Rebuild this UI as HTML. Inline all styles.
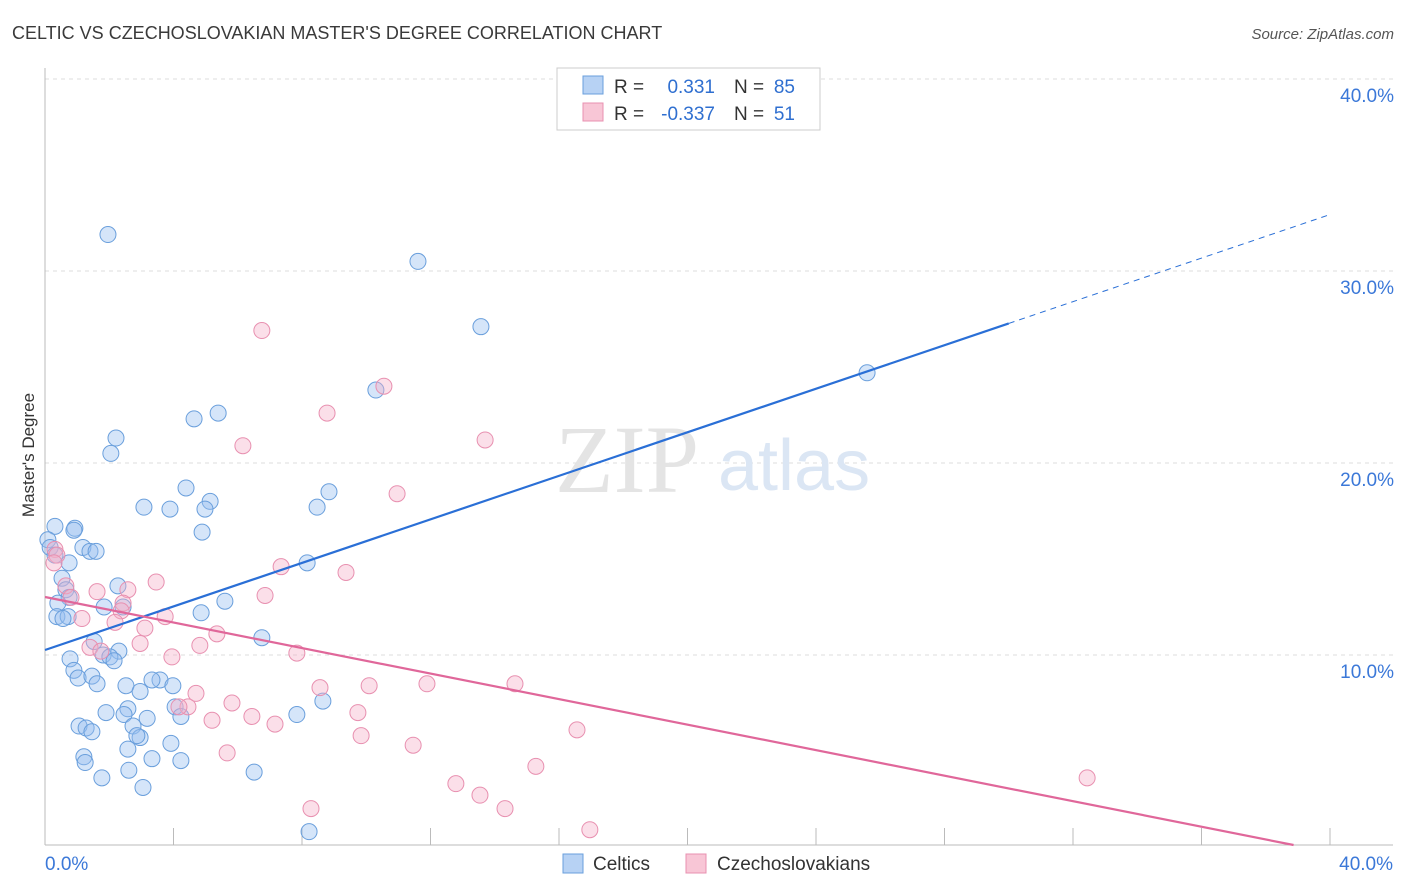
<!DOCTYPE html>
<html><head><meta charset="utf-8"><style>
body{margin:0;background:#fff;font-family:"Liberation Sans",sans-serif;}
svg{display:block}
</style></head><body>
<svg width="1406" height="892" xmlns="http://www.w3.org/2000/svg">
<text x="12" y="39" font-size="18" fill="#3a3a3a">CELTIC VS CZECHOSLOVAKIAN MASTER'S DEGREE CORRELATION CHART</text>
<text x="1394" y="39" font-size="15" fill="#555" font-style="italic" text-anchor="end">Source: ZipAtlas.com</text>
<g id="grid"></g>
<text x="555" y="492" font-size="96" fill="#e4e4e4" font-family="Liberation Serif,serif">ZIP</text>
<text x="718" y="490" font-size="72" fill="#dbe6f4">atlas</text>
<g id="marks"></g>
<text x="34" y="455" font-size="17" fill="#333" transform="rotate(-90 34 455)" text-anchor="middle">Master's Degree</text>
<g>
<rect x="557" y="68" width="263" height="62" fill="#fff" stroke="#ccc"/>
<rect x="583" y="76" width="20" height="18" fill="#b7d2f4" stroke="#6a9fdc"/>
<rect x="583" y="103" width="20" height="18" fill="#f8c6d6" stroke="#e890b0"/>
<text x="614" y="93" font-size="19" fill="#333">R =</text>
<text x="715" y="93" font-size="19" fill="#2f6fd0" text-anchor="end">0.331</text>
<text x="734" y="93" font-size="19" fill="#333">N =</text>
<text x="795" y="93" font-size="19" fill="#2f6fd0" text-anchor="end">85</text>
<text x="614" y="120" font-size="19" fill="#333">R =</text>
<text x="715" y="120" font-size="19" fill="#2f6fd0" text-anchor="end">-0.337</text>
<text x="734" y="120" font-size="19" fill="#333">N =</text>
<text x="795" y="120" font-size="19" fill="#2f6fd0" text-anchor="end">51</text>
</g>
<g>
<rect x="563" y="854" width="20" height="19" fill="#b7d2f4" stroke="#6a9fdc"/>
<text x="593" y="870" font-size="19" fill="#333">Celtics</text>
<rect x="686" y="854" width="20" height="19" fill="#f8c6d6" stroke="#e890b0"/>
<text x="717" y="870" font-size="19" fill="#333">Czechoslovakians</text>
</g>
</svg>
<script>
const yTicks=[10,20,30,40];
const yTickLabels=["10.0%","20.0%","30.0%","40.0%"];
const xTickVals=[0,4,8,12,16,20,24,28,32,36,40];
const celticsX=[1.96,11.61,13.57,25.59,10.30,5.39,4.64,2.21,2.05,4.39,8.84,5.14,3.08,3.89,4.98,8.47,4.89,0.31,0.93,0.90,0.09,0.16,1.18,1.40,1.59,0.31,0.75,8.16,0.53,2.27,0.65,0.75,0.40,1.84,2.43,5.60,4.86,0.37,0.72,0.56,6.75,1.53,0.78,1.81,2.30,2.02,2.15,0.90,1.03,1.46,1.62,2.52,2.96,3.58,3.33,3.98,4.05,4.23,1.90,2.58,2.46,3.18,7.84,8.65,1.06,1.28,1.46,2.74,2.96,2.86,2.58,3.92,1.21,1.25,3.33,4.23,2.61,1.77,3.05,6.51,8.22];
const celticsY=[31.9,30.5,27.1,24.7,23.8,22.6,22.3,21.3,20.5,18.7,18.5,18.0,17.7,17.6,17.6,17.7,16.4,16.7,16.6,16.5,16.0,15.6,15.6,15.4,15.4,15.2,14.8,14.8,14.0,13.6,13.4,13.0,12.7,12.5,12.5,12.8,12.2,12.0,12.0,11.9,10.9,10.7,9.8,10.0,10.2,9.9,9.7,9.2,8.8,8.9,8.5,8.4,8.1,8.7,8.7,8.4,7.3,6.8,7.0,7.2,6.9,6.7,6.9,7.6,6.3,6.2,6.0,6.3,5.7,5.8,5.1,5.4,4.7,4.4,4.6,4.5,4.0,3.6,3.1,3.9,0.8];
const czechX=[6.75,10.55,8.78,13.70,6.16,10.96,0.31,0.37,0.28,0.65,0.81,1.15,7.35,9.37,3.46,2.58,1.62,2.43,2.37,6.85,2.18,3.74,3.11,5.35,2.96,1.40,1.74,4.82,7.84,3.95,8.56,10.09,11.89,14.63,4.70,4.45,5.82,4.17,5.20,6.44,7.16,9.74,9.84,11.46,16.56,15.28,5.67,12.79,13.54,14.32,8.28,16.96,32.44];
const czechY=[26.9,24.0,22.6,21.2,20.9,18.4,15.5,15.2,14.8,13.6,13.0,11.9,14.6,14.3,13.8,13.4,13.3,12.7,12.3,13.1,11.7,12.0,11.4,11.1,10.6,10.4,10.2,10.5,10.1,9.9,8.3,8.4,8.5,8.5,8.0,7.3,7.5,7.3,6.6,6.8,6.4,7.0,5.8,5.3,6.1,4.2,4.9,3.3,2.7,2.0,2.0,0.9,3.6];
const celticsTrend=[10.26,0.567];
const czechTrend=[13.02,-0.335];
const NS="http://www.w3.org/2000/svg";
const X=v=>45+v*32.125, Y=v=>847-v*19.2;
function mk(p,t,a){const e=document.createElementNS(NS,t);for(const k in a)e.setAttribute(k,a[k]);p.appendChild(e);return e;}
const g=document.getElementById('grid'),m=document.getElementById('marks');
yTicks.forEach((t,i)=>{
 const l=mk(g,'line',{x1:45,x2:1393,y1:Y(t),y2:Y(t),stroke:'#ddd','stroke-dasharray':'4,4'});
 
 
 const tx=mk(g,'text',{x:1394,y:Y(t)+23,'font-size':19,fill:'#3b78d8','text-anchor':'end'});
 tx.textContent=yTickLabels[i];
 
 
});
mk(g,'line',{x1:45,x2:45,y1:68,y2:845,stroke:'#bbb'});
mk(g,'line',{x1:45,x2:1393,y1:845,y2:845,stroke:'#bbb'});
xTickVals.forEach(v=>{const t=mk(g,'line',{x1:X(v),x2:X(v),y1:828,y2:845,stroke:'#bbb'});
 
 });
const x0=mk(g,'text',{x:45,y:870,'font-size':19,fill:'#3b78d8'});x0.textContent='0.0%';


const x1=mk(g,'text',{x:1393,y:870,'font-size':19,fill:'#3b78d8','text-anchor':'end'});x1.textContent='40.0%';


celticsX.forEach((v,i)=>{const c=mk(m,'circle',{cx:X(v),cy:Y(celticsY[i]),r:8,fill:'rgba(150,190,240,0.4)',stroke:'#6a9fdc','stroke-width':1});
 
 });
czechX.forEach((v,i)=>{const c=mk(m,'circle',{cx:X(v),cy:Y(czechY[i]),r:8,fill:'rgba(245,175,200,0.4)',stroke:'#e890b0','stroke-width':1});
 
 });
const f=(t,x)=>t[0]+t[1]*x;
let l=mk(m,'line',{x1:X(0),y1:Y(f(celticsTrend,0)),x2:X(30),y2:Y(f(celticsTrend,30)),stroke:'#2a6fd6','stroke-width':2.2});


l=mk(m,'line',{x1:X(30),y1:Y(f(celticsTrend,30)),x2:X(40),y2:Y(f(celticsTrend,40)),stroke:'#2a6fd6','stroke-width':1,'stroke-dasharray':'6,5'});


const xe=-czechTrend[0]/czechTrend[1];
l=mk(m,'line',{x1:X(0),y1:Y(f(czechTrend,0)),x2:X(xe),y2:Y(0)-2,stroke:'#e0679a','stroke-width':2.2});


</script>
</body></html>
